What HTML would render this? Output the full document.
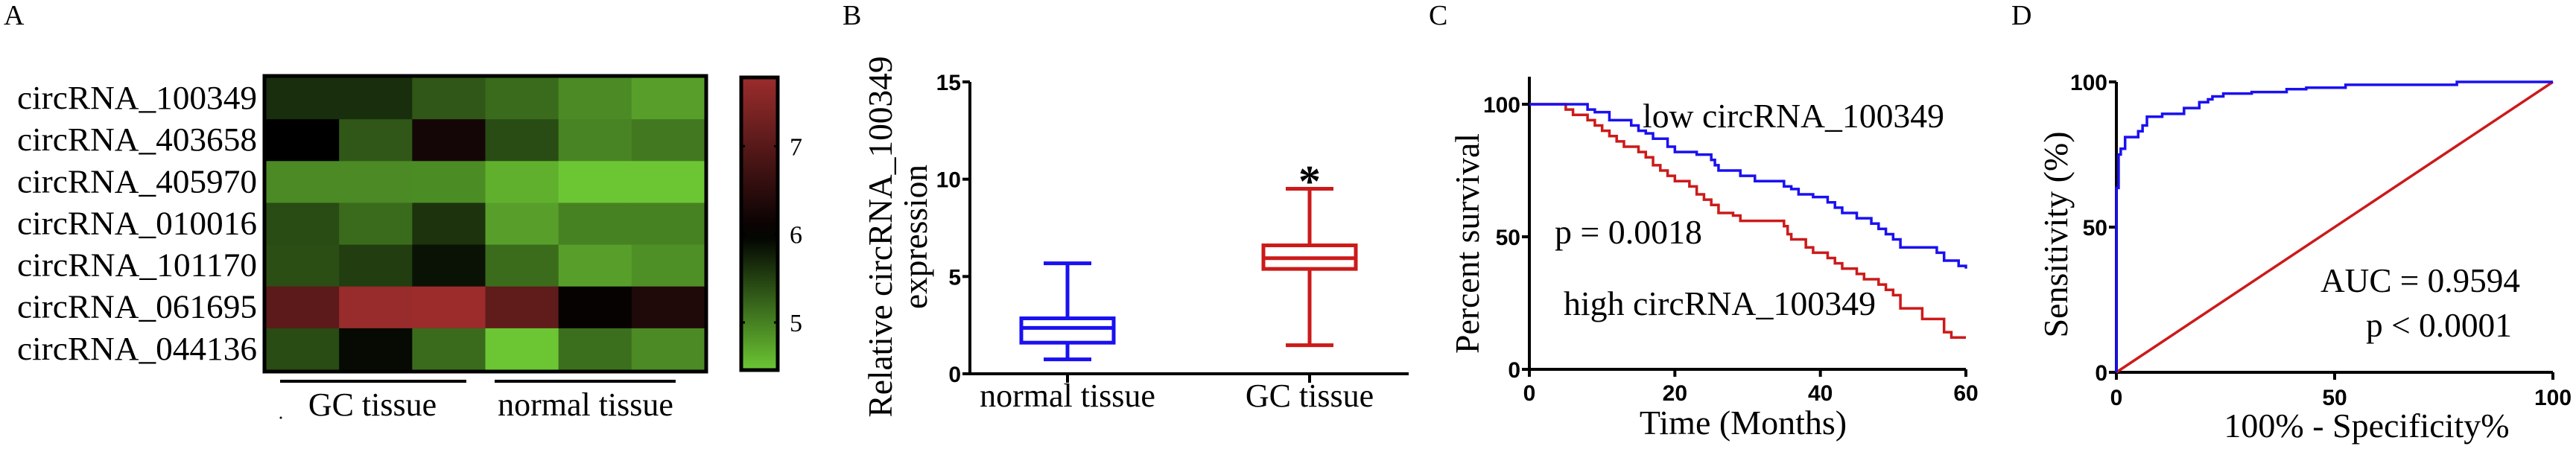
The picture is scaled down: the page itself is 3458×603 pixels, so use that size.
<!DOCTYPE html>
<html><head><meta charset="utf-8"><style>
html,body{margin:0;padding:0;background:#fff;width:3458px;height:603px;overflow:hidden}
svg text{font-family:"Liberation Serif",serif;fill:#000}
.tk{font-family:"Liberation Sans Narrow","Liberation Sans",sans-serif;font-weight:bold;font-size:30px}
</style></head><body>
<svg id="fig" width="3458" height="603" viewBox="0 0 3458 603">
<text x="5" y="33" font-size="38">A</text>
<text x="1131" y="33" font-size="38">B</text>
<text x="1918" y="33" font-size="38">C</text>
<text x="2700" y="33" font-size="38">D</text>
<g id="pa"></g>
<g id="pb"></g>
<g id="pc"></g>
<g id="pd"></g>
</svg>
<script>
// ---- Panel A data ----
const rowLabels = ["circRNA_100349","circRNA_403658","circRNA_405970","circRNA_010016","circRNA_101170","circRNA_061695","circRNA_044136"];
const heatValues = [
 [5.64,5.64,5.32,5.17,4.93,4.76],
 [6.00,5.32,6.23,5.41,4.97,5.06],
 [4.93,4.93,4.91,4.63,4.46,4.46],
 [5.42,5.17,5.60,4.76,4.99,4.99],
 [5.39,5.52,5.86,5.16,4.76,4.88],
 [7.05,7.73,7.78,7.10,6.07,6.37],
 [5.42,5.92,5.17,4.46,5.14,4.93]
];
const colorbarTicks = [5,6,7];
// ---- Panel B data ----
const boxGroups = ["normal tissue","GC tissue"];
const boxMin = [0.74,1.47];
const boxQ1 = [1.6,5.39];
const boxMed = [2.36,5.94];
const boxQ3 = [2.85,6.6];
const boxMax = [5.68,9.51];
const boxYTicks = [0,5,10,15];
// ---- Panel C data ----
const lowT = [0,8,9,11,14,15,16,17,19,20,23,25,25.5,26,29,31,35,36,37,39,41,42,43,45,47,48,49,50,51,56,57,59,60];
const lowS = [100,98,97,94,92,90,89,87,84,82,81,79,77,75,73,71,69,68,66,65,63,61,59,57,55,53,51,49,46,44,41,39,38];
const highT = [0,5,6,8,9,10,11,12,13,15,16,17,18,19,20,22,23,24,25,26,28,29,35,35.5,36,38,39,41,42,43,45,46,48,49,50,51,54,57,58,60];
const highS = [100,98,96,94,92,90,88,86,84,82,80,77,75,73,71,69,66,64,62,59,58,56,54,51,49,46,44,42,40,38,36,34,32,30,28,23,19,14,12,12];
const survXTicks = [0,20,40,60];
const survYTicks = [0,50,100];
// ---- Panel D data ----
const rocFpr = [0,0,0.5,0.5,1,1,2,2,5,5,6,6,7,7,10.5,10.5,15.5,15.5,19,19,21,21,22,22,24.5,24.5,31,31,39,39,43.5,43.5,52.5,52.5,78,78,100];
const rocTpr = [0,63.5,63.5,75,75,77,77,81,81,83,83,85,85,88,88,89,89,91,91,93,93,94,94,95,95,96,96,96.5,96.5,97.5,97.5,98,98,99,99,100,100];
const rocRefX = [0,100];
const rocRefY = [0,100];
const rocTicks = [0,50,100];

const NS="http://www.w3.org/2000/svg";
function mk(tag, attrs, parent){const e=document.createElementNS(NS,tag);for(const k in attrs)e.setAttribute(k,attrs[k]);parent.appendChild(e);return e;}
function txt(s, attrs, parent){const e=mk('text',attrs,parent);e.textContent=s;return e;}

// ===== Panel A =====
const pa=document.getElementById('pa');
const hx0=357,hx1=946,hy0=104,hy1=497;
const cw=(hx1-hx0)/6, ch=(hy1-hy0)/7;
function heatColor(v){
  if(v<6){const f=Math.min(1,(6-v)/1.54);return `rgb(${Math.round(108*f)},${Math.round(198*f)},${Math.round(52*f)})`;}
  const f=Math.min(1,(v-6)/1.78);return `rgb(${Math.round(156*f)},${Math.round(44*f)},${Math.round(44*f)})`;
}
heatValues.forEach((row,r)=>{
  row.forEach((v,c)=>{
    const cell=mk('rect',{x:hx0+c*cw,y:hy0+r*ch,width:cw+0.5,height:ch+0.5,fill:heatColor(v)},pa);
    
    
  });
  const lb=txt(rowLabels[r],{x:345,y:hy0+r*ch+42,'font-size':44,'text-anchor':'end',textLength:322,lengthAdjust:'spacingAndGlyphs'},pa);
  
  
});
const hb=mk('rect',{x:hx0-2,y:hy0-2,width:hx1-hx0+4,height:hy1-hy0+4,fill:'none',stroke:'#000','stroke-width':5},pa);


// colorbar
const defs=mk('defs',{},pa);
const lg=mk('linearGradient',{id:'cbg',x1:0,y1:1,x2:0,y2:0},defs);
const cbMin=4.46,cbMax=7.78;
for(let i=0;i<=20;i++){const v=cbMin+(cbMax-cbMin)*i/20;mk('stop',{offset:(i/20),'stop-color':heatColor(v)},lg);}
const cbx0=995,cbx1=1044;
const cb=mk('rect',{x:cbx0,y:hy0,width:cbx1-cbx0,height:hy1-hy0,fill:'url(#cbg)',stroke:'#000','stroke-width':5},pa);


function cbY(v){return hy1-(v-cbMin)/(cbMax-cbMin)*(hy1-hy0);}
colorbarTicks.forEach(t=>{
  const y=cbY(t);
  const tl=mk('line',{x1:cbx0,x2:cbx0+5,y1:y,y2:y,stroke:'#000','stroke-width':3},pa);
  
  
  const tr=mk('line',{x1:cbx1-5,x2:cbx1,y1:y,y2:y,stroke:'#000','stroke-width':3},pa);
  
  
  const t2=txt(String(t),{x:1060,y:y+12,'font-size':34,'font-family':'Liberation Sans Narrow, Liberation Sans, sans-serif'},pa);
  
  
});
const g1=mk('line',{x1:376,x2:626,y1:512,y2:512,stroke:'#000','stroke-width':4},pa);


const g2=mk('line',{x1:664,x2:907,y1:512,y2:512,stroke:'#000','stroke-width':4},pa);


const gl1=txt('GC tissue',{x:500,y:558,'font-size':44,'text-anchor':'middle'},pa);


const gl2=txt('normal tissue',{x:786,y:558,'font-size':44,'text-anchor':'middle'},pa);


const dot=mk('circle',{cx:377,cy:561,r:1.5,fill:'#000'},pa);



// ===== Panel B =====
const pb=document.getElementById('pb');
const bx0=1302,bx1=1891,by0=502,byTop=110;
function bY(v){return by0-(v-0)/15*(by0-byTop);}
const bCenters=[1433,1758];
const bax=mk('path',{d:`M${bx0} ${byTop}V${by0}H${bx1}`,fill:'none',stroke:'#000','stroke-width':4},pb);


boxYTicks.forEach(t=>{
  const y=bY(t);
  const l=mk('line',{x1:bx0-10,x2:bx0,y1:y,y2:y,stroke:'#000','stroke-width':4},pb);
  
  
  const s=txt(String(t),{x:bx0-12,y:y+11,'text-anchor':'end',class:'tk'},pb);
  
  
});
const bColors=['#1a10f0','#cc1a1a'];
boxGroups.forEach((g,i)=>{
  const cx=bCenters[i],c=bColors[i];
  const tk=mk('line',{x1:cx,x2:cx,y1:by0,y2:by0+12,stroke:'#000','stroke-width':4},pb);
  
  
  const lab=txt(g,{x:cx,y:546,'font-size':44,'text-anchor':'middle'},pb);
  
  
  const w=mk('path',{d:`M${cx} ${bY(boxMax[i])}V${bY(boxQ3[i])}M${cx} ${bY(boxQ1[i])}V${bY(boxMin[i])}M${cx-32} ${bY(boxMax[i])}H${cx+32}M${cx-32} ${bY(boxMin[i])}H${cx+32}`,fill:'none',stroke:c,'stroke-width':5},pb);
  
  
  const bx=mk('rect',{x:cx-62,y:bY(boxQ3[i]),width:124,height:bY(boxQ1[i])-bY(boxQ3[i]),fill:'none',stroke:c,'stroke-width':5},pb);
  
  
  const md=mk('line',{x1:cx-62,x2:cx+62,y1:bY(boxMed[i]),y2:bY(boxMed[i]),stroke:c,'stroke-width':5},pb);
  
  
});
const ast=txt('*',{x:bCenters[1],y:bY(boxMax[1])+10,'font-size':60,'font-weight':'bold','text-anchor':'middle','font-family':'Liberation Sans, sans-serif'},pb);


const byt1=txt('Relative circRNA_100349',{x:0,y:0,'font-size':46,'text-anchor':'middle',textLength:485,lengthAdjust:'spacingAndGlyphs',transform:'translate(1197,318) rotate(-90)'},pb);


const byt2=txt('expression',{x:0,y:0,'font-size':46,'text-anchor':'middle',textLength:194,lengthAdjust:'spacingAndGlyphs',transform:'translate(1244,318) rotate(-90)'},pb);



// ===== Panel C =====
const pc=document.getElementById('pc');
const cx0=2053,cx1=2639,cy0=496,cy100=140;
function cX(t){return cx0+t/60*(cx1-cx0);}
function cY(s){return cy0-s/100*(cy0-cy100);}
const cax=mk('path',{d:`M${cx0} 103V${cy0}H${cx1}`,fill:'none',stroke:'#000','stroke-width':4},pc);


survYTicks.forEach(t=>{
  const l=mk('line',{x1:cx0-10,x2:cx0,y1:cY(t),y2:cY(t),stroke:'#000','stroke-width':4},pc);
  
  
  const s=txt(String(t),{x:cx0-12,y:cY(t)+11,'text-anchor':'end',class:'tk'},pc);
  
  
});
survXTicks.forEach(t=>{
  const l=mk('line',{x1:cX(t),x2:cX(t),y1:cy0,y2:cy0+10,stroke:'#000','stroke-width':4},pc);
  
  
  const s=txt(String(t),{x:cX(t),y:538,'text-anchor':'middle',class:'tk'},pc);
  
  
});
function stepPath(T,S){let d=`M${cX(T[0])} ${cY(S[0])}`;for(let i=1;i<T.length;i++){d+=`H${cX(T[i])}V${cY(S[i])}`;}return d;}
const hp=mk('path',{d:stepPath(highT,highS),fill:'none',stroke:'#cc1a1a','stroke-width':3.5},pc);


const lp=mk('path',{d:stepPath(lowT,lowS),fill:'none',stroke:'#1a10f0','stroke-width':3.5},pc);


const ct1=txt('low circRNA_100349',{x:2205,y:171,'font-size':46,textLength:405,lengthAdjust:'spacingAndGlyphs'},pc);


const ct2=txt('p = 0.0018',{x:2087,y:327,'font-size':46,textLength:198,lengthAdjust:'spacingAndGlyphs'},pc);


const ct3=txt('high circRNA_100349',{x:2099,y:423,'font-size':46,textLength:419,lengthAdjust:'spacingAndGlyphs'},pc);


const cxt=txt('Time (Months)',{x:2340,y:583,'font-size':46,'text-anchor':'middle'},pc);


const cyt=txt('Percent survival',{x:0,y:0,'font-size':46,'text-anchor':'middle',textLength:296,lengthAdjust:'spacingAndGlyphs',transform:'translate(1985,327) rotate(-90)'},pc);



// ===== Panel D =====
const pd=document.getElementById('pd');
const dx0=2841,dx1=3427,dy0=500,dy100=110;
function dX(v){return dx0+v/100*(dx1-dx0);}
function dY(v){return dy0-v/100*(dy0-dy100);}
const dax=mk('path',{d:`M${dx0} ${dy100}V${dy0}H${dx1}`,fill:'none',stroke:'#000','stroke-width':4},pd);


rocTicks.forEach(t=>{
  const l=mk('line',{x1:dx0-10,x2:dx0,y1:dY(t),y2:dY(t),stroke:'#000','stroke-width':4},pd);
  
  
  const s=txt(String(t),{x:dx0-12,y:dY(t)+11,'text-anchor':'end',class:'tk'},pd);
  
  
  const l2=mk('line',{x1:dX(t),x2:dX(t),y1:dy0,y2:dy0+10,stroke:'#000','stroke-width':4},pd);
  
  
  const s2=txt(String(t),{x:dX(t),y:544,'text-anchor':'middle',class:'tk'},pd);
  
  
});
function linePath(X,Y){return X.map((x,i)=>(i?'L':'M')+dX(x)+' '+dY(Y[i])).join('');}
const ref=mk('path',{d:linePath(rocRefX,rocRefY),fill:'none',stroke:'#cc1a1a','stroke-width':3.5},pd);


const roc=mk('path',{d:linePath(rocFpr,rocTpr),fill:'none',stroke:'#1a10f0','stroke-width':3.5},pd);


const dt1=txt('AUC = 0.9594',{x:3115,y:392,'font-size':46,textLength:268,lengthAdjust:'spacingAndGlyphs'},pd);


const dt2=txt('p < 0.0001',{x:3176,y:452,'font-size':46,textLength:196,lengthAdjust:'spacingAndGlyphs'},pd);


const dxt=txt('100% - Specificity%',{x:3177,y:587,'font-size':46,'text-anchor':'middle'},pd);


const dyt=txt('Sensitivity (%)',{x:0,y:0,'font-size':46,'text-anchor':'middle',textLength:277,lengthAdjust:'spacingAndGlyphs',transform:'translate(2775,315) rotate(-90)'},pd);


</script>
</body></html>
